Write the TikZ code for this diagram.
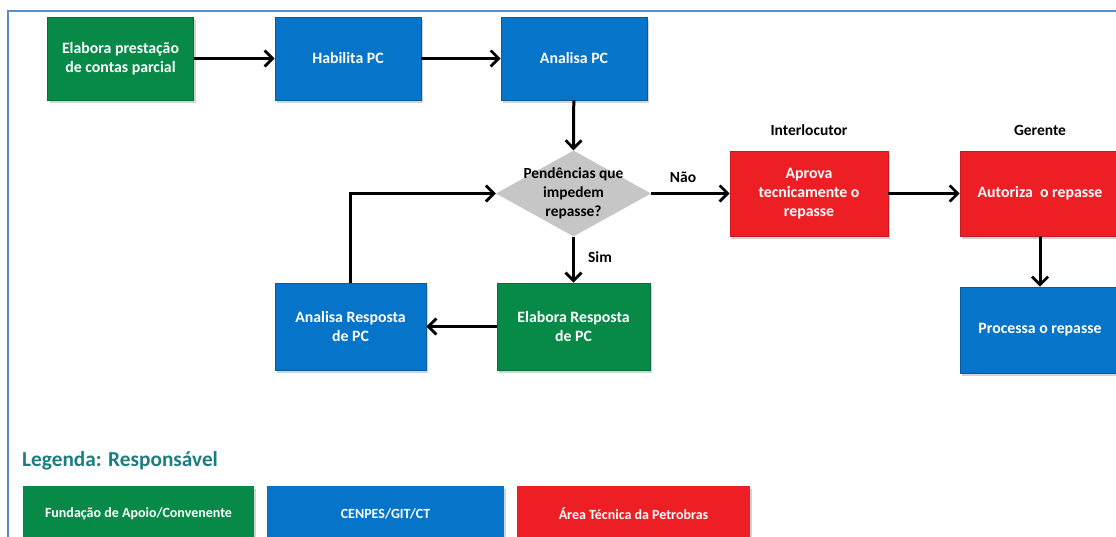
\documentclass[tikz,border=0pt]{standalone}
\usepackage{fontspec}
\setmainfont{Carlito}
\usetikzlibrary{shapes.geometric,arrows.meta,shadows}
\definecolor{cgreen}{HTML}{078A47}
\definecolor{cblue}{HTML}{0674C8}
\definecolor{cred}{HTML}{EE1F24}
\definecolor{cgrey}{HTML}{C6C6C6}
\definecolor{cframe}{HTML}{5B8BC9}
\definecolor{cteal}{HTML}{1A7E80}
\tikzset{
  boxbase/.style={rectangle, inner sep=2pt, align=center, text=white,
    font=\fontsize{15.8}{19}\selectfont\bfseries,
    drop shadow={shadow xshift=2pt, shadow yshift=-3pt, opacity=0.35}},
  gbox/.style={boxbase, fill=cgreen, draw=cgreen!80!black, line width=0.6pt},
  bbox/.style={boxbase, fill=cblue, draw=cblue!80!black, line width=0.6pt},
  rbox/.style={boxbase, fill=cred, draw=cred!85!black, line width=0.6pt},
  legbox/.style={boxbase, font=\fontsize{14}{17}\selectfont\bfseries,
    minimum width=231pt, minimum height=56pt},
  lbl/.style={font=\fontsize{15.5}{18}\selectfont\bfseries, text=black},
  arr/.style={line width=3pt, -{Straight Barb[length=8pt,width=16pt,line width=2.8pt]}}
}
\begin{document}
\begin{tikzpicture}[x=1pt,y=-1pt]
\useasboundingbox (0,0) rectangle (1116,537);
% frame
\draw[cframe, line width=2pt] (8,537) -- (8,11) -- (1116,11);
% row 1
\node[gbox, minimum width=146pt, minimum height=83pt] (b1) at (120.5,58.5) {Elabora prestação\\de contas parcial};
\node[bbox, minimum width=146pt, minimum height=83pt] (b2) at (348,58.5) {Habilita PC};
\node[bbox, minimum width=146pt, minimum height=83pt] (b3) at (574,58.5) {Analisa PC};
% diamond
\node[diamond, fill=cgrey, inner sep=0pt, minimum width=155pt, minimum height=86pt, aspect=1.8] (d) at (573.5,193.5) {};
\node[lbl, align=center, font=\fontsize{15.4}{19}\selectfont\bfseries] (dt) at (d.center) {Pendências que\\impedem\\repasse?};
% right side
\node[lbl] (int) at (809,130) {Interlocutor};
\node[rbox, minimum width=158pt, minimum height=85pt] (ap) at (809,193.5) {Aprova\\tecnicamente o\\repasse};
\node[lbl] (ger) at (1040,130) {Gerente};
\node[rbox, minimum width=160pt, minimum height=85pt] (au) at (1040,193.5) {Autoriza\ \ o repasse};
\node[bbox, minimum width=160pt, minimum height=86pt] (pr) at (1040,330) {Processa o repasse};
% bottom loop
\node[gbox, minimum width=153pt, minimum height=87pt] (er) at (573.5,326.5) {Elabora Resposta\\de PC};
\node[bbox, minimum width=151pt, minimum height=87pt] (ar) at (350.5,326.5) {Analisa Resposta\\de PC};
% connectors
\draw[arr] (b1) -- (b2);
\draw[arr] (b2) -- (b3);
\draw[arr] (b3) -- (d.north);
\draw[arr] (d.east) -- (ap.west);
\draw[arr] (ap.east) -- (au.west);
\draw[arr] (au.south) -- (pr.north);
\draw[arr] (d.south) -- (er.north);
\draw[arr] (er.west) -- (ar.east);
\draw[arr] (ar.north) |- (d.west);
\node[lbl] (nao) at (683,177) {Não};
\node[lbl] (sim) at (600,257) {Sim};
% legend
\node[anchor=west, inner sep=0pt, text=cteal, font=\fontsize{21.3}{25}\selectfont\bfseries] (leg) at (22,461) {Legenda: Responsável};
\node[legbox, fill=cgreen] (l1) at (138.5,514) {Fundação de Apoio/Convenente};
\node[legbox, fill=cblue, minimum width=237pt] (l2) at (385.5,514) {CENPES/GIT/CT};
\node[legbox, fill=cred, minimum width=233pt] (l3) at (633.5,514) {Área Técnica da Petrobras};
\end{tikzpicture}
\end{document}
